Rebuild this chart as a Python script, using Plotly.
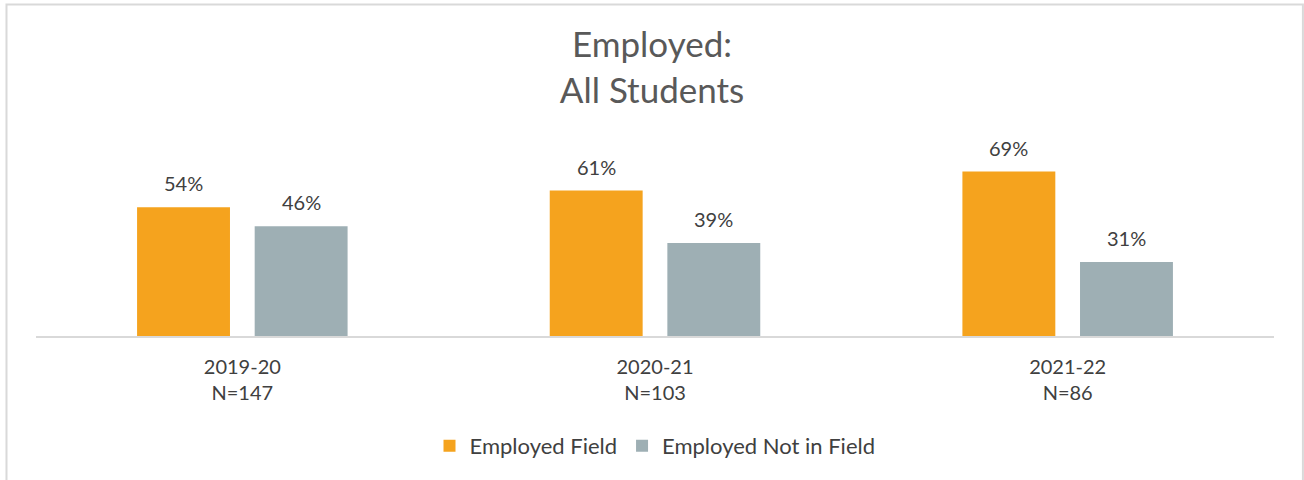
import plotly.graph_objects as go

categories = ["2019-20<br>N=147", "2020-21<br>N=103", "2021-22<br>N=86"]
employed_field = [54, 61, 69]
employed_not_in_field = [46, 39, 31]
series_names = ["Employed Field", "Employed Not in Field"]

ORANGE = "#F5A31E"
GRAY = "#9EAFB4"
FONT = "Lato, 'Open Sans', sans-serif"

fig = go.Figure()
fig.add_trace(go.Bar(x=categories, y=employed_field, name=series_names[0],
                     marker=dict(color=ORANGE, line=dict(width=0))))
fig.add_trace(go.Bar(x=categories, y=employed_not_in_field, name=series_names[1],
                     marker=dict(color=GRAY, line=dict(width=0))))

# value labels above bars
offset_px = 58.75
for vals, sh in [(employed_field, -offset_px), (employed_not_in_field, offset_px)]:
    for c, v in zip(categories, vals):
        fig.add_annotation(x=c, y=v, text=f"{v}%", showarrow=False,
                           xshift=sh, yshift=24, yanchor="middle",
                           font=dict(size=20, color="#404040", family=FONT))

W, H = 1304, 480
ml, mr, mt, mb = 36, 30.4, 146, 144
pw = W - ml - mr
ph = H - mt - mb

fig.add_shape(type="rect", xref="paper", yref="paper",
              x0=(6.5 - ml) / pw, x1=(1302.5 - ml) / pw,
              y0=(H - mb - 500) / ph, y1=(H - mb - 4.5) / ph,
              line=dict(color="#D9D9D9", width=2), fillcolor="rgba(0,0,0,0)", layer="below")

fig.update_layout(
    width=W, height=H,
    margin=dict(l=ml, r=mr, t=mt, b=mb, pad=0),
    paper_bgcolor="white", plot_bgcolor="white",
    barmode="group", bargap=0.43, bargroupgap=0.21,
    title=dict(text="Employed:<br>All Students", x=0.5, xanchor="center",
               y=(H - 57) / H, yanchor="middle",
               font=dict(size=35, color="#595959", family=FONT)),
    xaxis=dict(showline=True, linecolor="#D9D9D9", linewidth=2, showgrid=False,
               ticks="", ticklabelstandoff=12,
               tickfont=dict(size=20, color="#404040", family=FONT)),
    yaxis=dict(range=[0, 79.7], visible=False, showgrid=False, zeroline=False),
    legend=dict(orientation="h", x=0.5, xanchor="center", y=(H - mb - 446) / ph,
                yanchor="middle", font=dict(size=22, color="#404040", family=FONT),
                itemwidth=30),
    showlegend=True,
)

fig.write_html("out.html")
